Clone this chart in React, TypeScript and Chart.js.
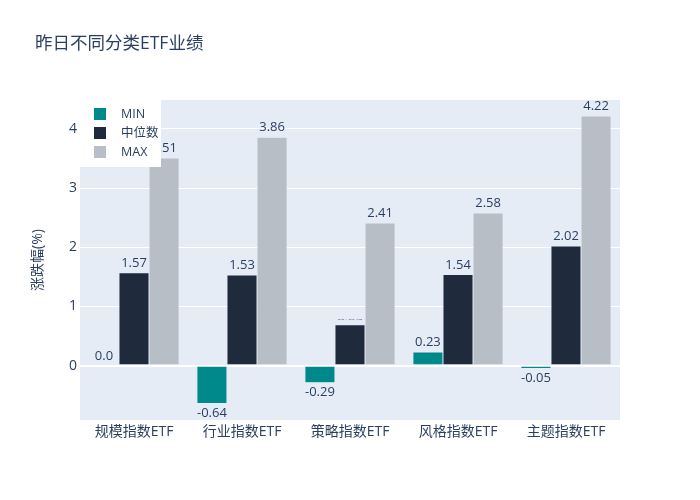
import React, { useEffect, useRef } from "react";
import { Chart, registerables } from "chart.js";

Chart.register(...registerables);

const categories = ["规模指数ETF", "行业指数ETF", "策略指数ETF", "风格指数ETF", "主题指数ETF"];
const minValues = [0.0, -0.64, -0.29, 0.23, -0.05];
const medianValues = [1.57, 1.53, 0.69, 1.54, 2.02];
const maxValues = [3.51, 3.86, 2.41, 2.58, 4.22];
const seriesNames = ["MIN", "中位数", "MAX"];
const seriesColors = ["#00898a", "#1f2a3d", "#b8bec6"];
const yTicks = [0, 1, 2, 3, 4];

const FONT = '"Open Sans", "Noto Sans CJK SC", sans-serif';
const TEXT = "#2a3f5f";

const labelPlugin = {
  id: "valueLabels",
  afterDatasetsDraw(chart: any) {
    const ctx = chart.ctx;
    ctx.save();
    ctx.fillStyle = TEXT;
    ctx.textAlign = "center";
    chart.data.datasets.forEach((ds: any, di: number) => {
      const meta = chart.getDatasetMeta(di);
      meta.data.forEach((bar: any, i: number) => {
        const v = ds.data[i];
        const txt = v === 0 ? "0.0" : String(v);
        const base = chart.scales.y.getPixelForValue(0);
        if (di === 1 && i === 2) {
          // squeezed label in the reference
          ctx.save();
          ctx.translate(bar.x, bar.y - 4);
          ctx.scale(1, 0.15);
          ctx.font = `13px ${FONT}`;
          ctx.fillStyle = "#5a6a88";
          ctx.textBaseline = "bottom";
          ctx.fillText(txt, 0, 0);
          ctx.restore();
          return;
        }
        ctx.font = `13px ${FONT}`;
        if (v >= 0) {
          ctx.textBaseline = "bottom";
          ctx.fillText(txt, bar.x, Math.min(bar.y, base) - 3);
        } else {
          ctx.textBaseline = "top";
          ctx.fillText(txt, bar.x, Math.max(bar.y, base) + 3);
        }
      });
    });
    ctx.restore();
  },
};

const legendPlugin = {
  id: "customLegend",
  afterDraw(chart: any) {
    const ctx = chart.ctx;
    const left = chart.chartArea.left;
    const top = chart.chartArea.top;
    ctx.save();
    ctx.fillStyle = "#ffffff";
    ctx.fillRect(left, top, 81, 67);
    seriesNames.forEach((name, i) => {
      const cy = top + 14 + i * 19;
      ctx.fillStyle = seriesColors[i];
      ctx.fillRect(left + 14, cy - 6, 12, 12);
      ctx.fillStyle = TEXT;
      ctx.font = `12.5px ${FONT}`;
      ctx.textAlign = "left";
      ctx.textBaseline = "middle";
      ctx.fillText(name, left + 41, cy);
    });
    ctx.restore();
  },
};

const titlePlugin = {
  id: "customTitle",
  afterDraw(chart: any) {
    const ctx = chart.ctx;
    ctx.save();
    ctx.fillStyle = TEXT;
    ctx.font = `17.5px ${FONT}`;
    ctx.textAlign = "left";
    ctx.textBaseline = "middle";
    ctx.fillText("昨日不同分类ETF业绩", 35, 44);
    // y axis title
    const ca = chart.chartArea;
    ctx.translate(38, (ca.top + ca.bottom) / 2);
    ctx.rotate(-Math.PI / 2);
    ctx.font = `14px ${FONT}`;
    ctx.textAlign = "center";
    ctx.fillText("涨跌幅(%)", 0, 0);
    ctx.restore();
  },
};

const bgPlugin = {
  id: "plotBg",
  beforeDraw(chart: any) {
    const { ctx, chartArea } = chart;
    ctx.save();
    ctx.fillStyle = "#ffffff";
    ctx.fillRect(0, 0, chart.width, chart.height);
    ctx.fillStyle = "#E5ECF6";
    ctx.fillRect(chartArea.left, chartArea.top, chartArea.right - chartArea.left, chartArea.bottom - chartArea.top);
    ctx.restore();
  },
};

export default function App() {
  const ref = useRef<HTMLCanvasElement>(null);
  useEffect(() => {
    if (!ref.current) return;
    const chart = new Chart(ref.current, {
      type: "bar",
      data: {
        labels: categories,
        datasets: [minValues, medianValues, maxValues].map((d, i) => ({
          label: seriesNames[i],
          data: d,
          backgroundColor: seriesColors[i],
          borderColor: "#E5ECF6",
          borderWidth: 0.5,
          categoryPercentage: 0.835,
          barPercentage: 1.0,
        })),
      },
      options: {
        animation: false,
        responsive: false,
        devicePixelRatio: 1,
        layout: { padding: { left: 0, right: 80, top: 100, bottom: 0 } },
        plugins: {
          legend: { display: false },
          title: { display: false },
          tooltip: { enabled: false },
        },
        scales: {
          x: {
            grid: { display: false },
            border: { display: false },
            ticks: { color: TEXT, font: { family: FONT, size: 14 }, padding: -4 },
            afterFit: (s: any) => {
              s.height = 80;
            },
          },
          y: {
            min: -0.92,
            max: 4.49,
            afterBuildTicks: (s: any) => {
              s.ticks = yTicks.map((v) => ({ value: v }));
            },
            grid: {
              color: "#ffffff",
              lineWidth: (c: any) => (c.tick && c.tick.value === 0 ? 2 : 1),
              drawTicks: false,
            },
            border: { display: false },
            ticks: { color: TEXT, font: { family: FONT, size: 14 }, padding: 3 },
            afterFit: (s: any) => {
              s.width = 80;
            },
          },
        },
      },
      plugins: [bgPlugin, labelPlugin, legendPlugin, titlePlugin],
    });
    return () => chart.destroy();
  }, []);
  return (
    <div style={{ position: "absolute", left: 0, top: 0, width: 700, height: 500, background: "#fff" }}>
      <canvas ref={ref} width={700} height={500} style={{ width: 700, height: 500 }} />
    </div>
  );
}
